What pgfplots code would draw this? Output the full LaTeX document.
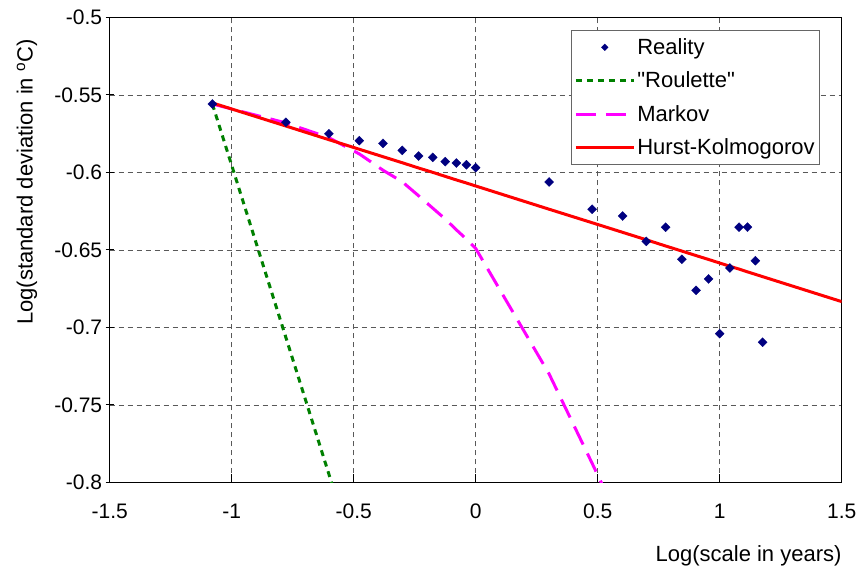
\documentclass[border=0pt]{standalone}
\usepackage{fontspec}
\setmainfont{Liberation Sans}
\newfontfamily\plainq{Liberation Sans}
\usepackage{pgfplots}
\pgfplotsset{compat=1.18}
\usetikzlibrary{calc}
\definecolor{navyb}{RGB}{0,0,128}
\definecolor{greenr}{RGB}{0,128,0}
\definecolor{magm}{RGB}{255,0,255}
\definecolor{redh}{RGB}{255,0,0}
\newcommand\fs{\fontsize{21bp}{25bp}\selectfont}
\newcommand\fl{\fontsize{22bp}{26bp}\selectfont}
\begin{document}
\begin{tikzpicture}
\begin{axis}[
  name=ax,
  scale only axis, width=732bp, height=465bp,
  xmin=-1.5, xmax=1.5, ymin=-0.8, ymax=-0.5,
  xtick={-1.5,-1,-0.5,0,0.5,1,1.5},
  xticklabels={-1.5,-1,-0.5,0,0.5,1,1.5},
  ytick={-0.8,-0.75,-0.7,-0.65,-0.6,-0.55,-0.5},
  yticklabels={-0.8,-0.75,-0.7,-0.65,-0.6,-0.55,-0.5},
  grid=major,
  major grid style={black!65, line width=0.9bp, dash pattern=on 5bp off 4bp},
  axis line style={black, line width=1.2bp},
  tick style={black, line width=1bp},
  major tick length=8bp,
  xtick align=inside, ytick align=center,
  xtick pos=left, ytick pos=left,
  tick label style={font=\fs},
  xticklabel style={yshift=-18bp},
  xlabel={Log(scale in years)},
  xlabel style={font=\fl, at={(rel axis cs:1,0)}, anchor=base east, yshift=-78.5bp, inner sep=0pt},
  ylabel={Log(standard deviation in \textsuperscript{o}C)},
  ylabel style={font=\fl, at={(axis description cs:-0.113,0.646)}, anchor=center},
  legend style={at={(rel axis cs:0.630,0.973)}, anchor=north west, draw=black!60, line width=1bp, fill=white, font=\fl, legend cell align=left, row sep=12bp, inner ysep=6bp},
  legend image code/.code={\draw[mark repeat=2,mark phase=2] plot coordinates {(0bp,0bp) (29bp,0bp) (58bp,0bp)};},
]
\addplot[only marks, mark=square*, mark size=3.2bp, mark options={rotate=45, fill=navyb, draw=navyb, line width=0.3bp}, legend image post style={mark size=2.4bp}] coordinates {
(-1.0792,-0.5558) (-0.7782,-0.5676) (-0.6021,-0.5750) (-0.4771,-0.5795)
(-0.3802,-0.5812) (-0.3010,-0.5857) (-0.2341,-0.5894) (-0.1761,-0.5902)
(-0.1249,-0.5930) (-0.0792,-0.5939) (-0.0378,-0.5950) (0,-0.5969)
(0.3010,-0.6061) (0.4771,-0.6237) (0.6021,-0.6281) (0.6990,-0.6445)
(0.7782,-0.6353) (0.8451,-0.6560) (0.9031,-0.6760) (0.9542,-0.6687)
(1.0,-0.7040) (1.0414,-0.6616) (1.0792,-0.6353) (1.1139,-0.6353)
(1.1461,-0.6569) (1.1761,-0.7095)};
\addlegendentry{Reality}
\addplot[greenr, line width=3bp, dash pattern=on 6bp off 5bp, no marks] coordinates {
(-1.0792,-0.5558) (-0.7782,-0.7063) (-0.6021,-0.7944) (-0.4771,-0.8569)};
\addlegendentry{{\plainq"}Roulette{\plainq"}}
\addplot[magm, line width=3bp, dash pattern=on 20bp off 10bp, no marks] coordinates {
(-1.0792,-0.5558) (-0.7782,-0.5680) (-0.6021,-0.5775) (-0.4771,-0.5880)
(-0.3802,-0.5985) (-0.3010,-0.6060) (-0.2341,-0.6150) (-0.1761,-0.6230)
(-0.1249,-0.6300) (-0.0792,-0.6370) (-0.0378,-0.6430) (0,-0.6490)
(0.3010,-0.7300) (0.4771,-0.7876) (0.6021,-0.8290)};
\addlegendentry{Markov}
\addplot[redh, line width=3bp, no marks] coordinates {
(-1.0792,-0.5551) (-0.7782,-0.5700) (-0.6021,-0.5788) (-0.4771,-0.5850)
(-0.3802,-0.5898) (-0.3010,-0.5937) (-0.2341,-0.5971) (-0.1761,-0.5999)
(-0.1249,-0.6025) (-0.0792,-0.6048) (-0.0378,-0.6068) (0,-0.6087)
(0.3010,-0.6237) (0.4771,-0.6324) (0.6021,-0.6386) (0.6990,-0.6434)
(0.7782,-0.6474) (0.8451,-0.6507) (0.9031,-0.6536) (0.9542,-0.6561)
(1.0,-0.6584) (1.0414,-0.6605) (1.0792,-0.6623) (1.1139,-0.6641)
(1.1461,-0.6657) (1.1761,-0.6672) (1.5,-0.6833)};
\addlegendentry{Hurst-Kolmogorov}
\end{axis}
\pgfresetboundingbox
\path[use as bounding box] ($(ax.south west)+(-109.7bp,-89.5bp)$) rectangle ($(ax.north east)+(16.3bp,17.5bp)$);
\end{tikzpicture}
\end{document}
